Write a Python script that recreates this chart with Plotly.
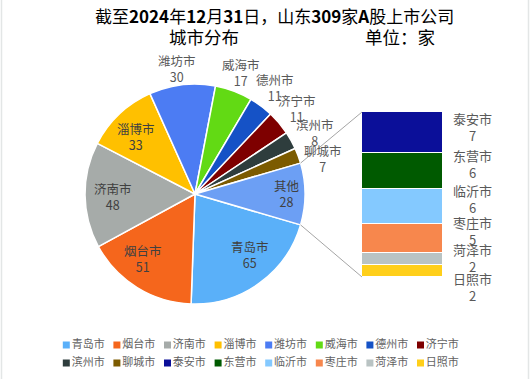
import math
import plotly.graph_objects as go

W, H = 530, 379

# ---------------- data ----------------
main_names = ["青岛市", "烟台市", "济南市", "淄博市", "潍坊市", "威海市", "德州市", "济宁市", "滨州市", "聊城市"]
main_values = [65, 51, 48, 33, 30, 17, 11, 11, 8, 7]
main_colors = ["#5AB0F9", "#F5661C", "#A6ABA9", "#FFC000", "#4C7CF3", "#62DA14", "#1552C6", "#7E0000", "#2E3D3D", "#7C5B00"]

other_label = "其他"
other_color = "#6C9FF4"
other_names = ["泰安市", "东营市", "临沂市", "枣庄市", "菏泽市", "日照市"]
other_values = [7, 6, 6, 5, 2, 2]
other_colors = ["#0B0F99", "#005A00", "#84C9FF", "#F7874D", "#B9C3C3", "#FFCF1A"]

title_line1 = "截至<b>2024</b>年<b>12</b>月<b>31</b>日，山东<b>309</b>家<b>A</b>股上市公司"
title_left = "城市分布"
title_right = "单位：家"

# ---------------- layout / style ----------------
FONT = "Noto Sans CJK SC"
PIE_DOM_X = [85 / W, 305 / W]
PIE_DOM_Y = [75 / H, 295 / H]
BAR_DOM_X = [362 / W, 443 / W]
BAR_DOM_Y = [102 / H, 267 / H]

# label placement style for pie (radius factor, px offsets) in order main + other
lab_rf = [0.75, 0.75, 0.75, 0.76, 1.16, 1.18, 1.21, 1.21, 1.22, 1.21, 0.84]
lab_dx = [7, -9, 0, -2, -3, 0, 0, 0, 3, 3, 0]
lab_dy = [6, 6, -2, -3, -1, 0, 0, 0, -4, -11, 0]
bar_lab_dy = [6, 7, 7, 8, 1, -16]

other_total = sum(other_values)
pie_labels = main_names + [other_label]
pie_values = main_values + [other_total]
pie_colors = main_colors + [other_color]
total = sum(pie_values)

# first slice starts so that the "other" slice is centred on the right (3 o'clock)
half_other_deg = 180.0 * other_total / total
rotation = 90 + half_other_deg

fig = go.Figure()

fig.add_trace(go.Pie(
    labels=pie_labels, values=pie_values, sort=False, direction="clockwise",
    rotation=rotation, textinfo="none", hoverinfo="label+value",
    marker=dict(colors=pie_colors, line=dict(color="white", width=1.5)),
    domain=dict(x=PIE_DOM_X, y=PIE_DOM_Y), showlegend=False,
))

# stacked bar for the "other" breakdown (bottom -> top is reversed list order)
for name, val, col in zip(reversed(other_names), reversed(other_values), reversed(other_colors)):
    fig.add_trace(go.Bar(
        x=[0], y=[val], name=name, width=1,
        marker=dict(color=col, line=dict(color="white", width=1.5)),
        showlegend=False, hoverinfo="name+y", xaxis="x", yaxis="y",
    ))

# manual legend (two rows of eight)
leg_names = main_names + other_names
leg_colors = main_colors + other_colors
leg_x = [i % 8 for i in range(len(leg_names))]
leg_y = [i // 8 for i in range(len(leg_names))]
fig.add_trace(go.Scatter(
    x=leg_x, y=leg_y, mode="markers+text", text=leg_names, textposition="middle right",
    marker=dict(symbol="square", size=7, color=leg_colors),
    textfont=dict(family=FONT, size=11, color="#626262"),
    xaxis="x2", yaxis="y2", showlegend=False, hoverinfo="skip", cliponaxis=False,
))

annotations = []

# pie labels computed from slice angles
pw = W * (PIE_DOM_X[1] - PIE_DOM_X[0])
ph = H * (PIE_DOM_Y[1] - PIE_DOM_Y[0])
cx = W * (PIE_DOM_X[0] + PIE_DOM_X[1]) / 2
cy = H * (1 - (PIE_DOM_Y[0] + PIE_DOM_Y[1]) / 2)
r = min(pw, ph) / 2

start = 90 - rotation  # math angle (deg, ccw from +x)
cum = 0
for i, (lab, val) in enumerate(zip(pie_labels, pie_values)):
    mid = start - 360.0 * (cum + val / 2) / total
    cum += val
    rad = math.radians(mid)
    px = cx + lab_rf[i] * r * math.cos(rad)
    py = cy - lab_rf[i] * r * math.sin(rad)
    inside = lab_rf[i] < 1
    annotations.append(dict(
        x=px / W, y=1 - py / H, xref="paper", yref="paper", showarrow=False,
        text=f"{lab}<br>{val}", xshift=lab_dx[i], yshift=lab_dy[i],
        font=dict(family=FONT, size=12.5, color="#404040" if inside else "#595959"),
        xanchor="center", yanchor="middle",
    ))

# bar labels
cum = 0
centers = []
for val in reversed(other_values):
    centers.append(cum + val / 2)
    cum += val
centers = list(reversed(centers))
for i, (name, val) in enumerate(zip(other_names, other_values)):
    annotations.append(dict(
        x=472 / W, y=centers[i], xref="paper", yref="y", showarrow=False,
        text=f"{name}<br>{val}", yshift=bar_lab_dy[i],
        font=dict(family=FONT, size=13, color="#595959"),
        xanchor="center", yanchor="middle",
    ))

# titles
annotations.append(dict(x=274 / W, y=1 - 15 / H, xref="paper", yref="paper", showarrow=False,
                        text=title_line1, font=dict(family=FONT, size=17, color="#000000"),
                        xanchor="center", yanchor="middle"))
annotations.append(dict(x=204 / W, y=1 - 36 / H, xref="paper", yref="paper", showarrow=False,
                        text=title_left, font=dict(family=FONT, size=17.5, color="#000000"),
                        xanchor="center", yanchor="middle"))
annotations.append(dict(x=400 / W, y=1 - 36 / H, xref="paper", yref="paper", showarrow=False,
                        text=title_right, font=dict(family=FONT, size=17.5, color="#000000"),
                        xanchor="center", yanchor="middle"))

# connector lines from "other" slice edges to bar corners
hr = math.radians(half_other_deg)
up_pt = (cx + r * math.cos(hr), cy - r * math.sin(hr))
lo_pt = (cx + r * math.cos(hr), cy + r * math.sin(hr))
shapes = [
    dict(type="line", xref="paper", yref="paper", x0=up_pt[0] / W, y0=1 - up_pt[1] / H,
         x1=BAR_DOM_X[0], y1=BAR_DOM_Y[1], line=dict(color="#A5A5A5", width=1)),
    dict(type="line", xref="paper", yref="paper", x0=lo_pt[0] / W, y0=1 - lo_pt[1] / H,
         x1=BAR_DOM_X[0], y1=BAR_DOM_Y[0], line=dict(color="#A5A5A5", width=1)),
    dict(type="line", xref="paper", yref="paper", x0=1.5 / W, y0=0, x1=1.5 / W, y1=1,
         line=dict(color="#E3E6E6", width=1.5), layer="below"),
    dict(type="line", xref="paper", yref="paper", x0=1 - 1.5 / W, y0=0, x1=1 - 1.5 / W, y1=1,
         line=dict(color="#E3E6E6", width=1.5), layer="below"),
]

fig.update_layout(
    width=W, height=H, margin=dict(l=0, r=0, t=0, b=0),
    paper_bgcolor="white", plot_bgcolor="white",
    barmode="stack", bargap=0,
    xaxis=dict(domain=BAR_DOM_X, range=[-0.5, 0.5], visible=False, fixedrange=True),
    yaxis=dict(domain=BAR_DOM_Y, range=[0, other_total], visible=False, fixedrange=True),
    xaxis2=dict(domain=[66.3 / W, 420.5 / W], range=[0, 7], visible=False, fixedrange=True),
    yaxis2=dict(domain=[(H - 363) / H, (H - 345) / H], range=[1, 0], visible=False, fixedrange=True),
    annotations=annotations, shapes=shapes, showlegend=False,
    font=dict(family=FONT),
)

fig.write_html("out.html", config={"displayModeBar": False},
               post_script="document.body.style.margin='0';document.body.style.overflow='hidden';")
